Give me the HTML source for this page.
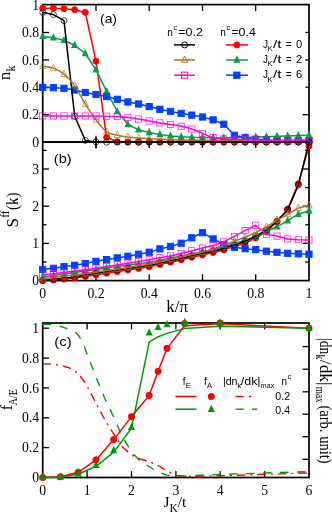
<!DOCTYPE html>
<html><head><meta charset="utf-8"><title>fig</title><style>html,body{margin:0;padding:0;background:#fff}svg{display:block}</style></head><body>
<svg width="332" height="514" viewBox="0 0 332 514">
<rect width="332" height="514" fill="#fff"/>
<defs><clipPath id="ca"><rect x="38.7" y="0.5999999999999996" width="274.3" height="145.45000000000002"/></clipPath></defs>
<g id="axa">
<rect x="42.7" y="4.6" width="266.3" height="137.45000000000002" fill="none" stroke="#000" stroke-width="1.7"/>
<line x1="96.0" y1="4.6" x2="96.0" y2="11.0" stroke="#000" stroke-width="1.3"/>
<line x1="96.0" y1="142.1" x2="96.0" y2="137.2" stroke="#000" stroke-width="1.3"/>
<line x1="149.2" y1="4.6" x2="149.2" y2="11.0" stroke="#000" stroke-width="1.3"/>
<line x1="149.2" y1="142.1" x2="149.2" y2="137.2" stroke="#000" stroke-width="1.3"/>
<line x1="202.5" y1="4.6" x2="202.5" y2="11.0" stroke="#000" stroke-width="1.3"/>
<line x1="202.5" y1="142.1" x2="202.5" y2="137.2" stroke="#000" stroke-width="1.3"/>
<line x1="255.7" y1="4.6" x2="255.7" y2="11.0" stroke="#000" stroke-width="1.3"/>
<line x1="255.7" y1="142.1" x2="255.7" y2="137.2" stroke="#000" stroke-width="1.3"/>
<line x1="42.7" y1="114.7" x2="49.1" y2="114.7" stroke="#000" stroke-width="1.3"/>
<line x1="309.0" y1="114.7" x2="302.6" y2="114.7" stroke="#000" stroke-width="1.3"/>
<line x1="42.7" y1="87.2" x2="49.1" y2="87.2" stroke="#000" stroke-width="1.3"/>
<line x1="309.0" y1="87.2" x2="302.6" y2="87.2" stroke="#000" stroke-width="1.3"/>
<line x1="42.7" y1="59.9" x2="49.1" y2="59.9" stroke="#000" stroke-width="1.3"/>
<line x1="309.0" y1="59.9" x2="302.6" y2="59.9" stroke="#000" stroke-width="1.3"/>
<line x1="42.7" y1="32.5" x2="49.1" y2="32.5" stroke="#000" stroke-width="1.3"/>
<line x1="309.0" y1="32.5" x2="302.6" y2="32.5" stroke="#000" stroke-width="1.3"/>
</g>
<g id="pa">
<polyline points="42.7,8.2 53.4,8.2 64.0,8.7 74.7,9.7 85.3,12.4 96.0,61.2 106.6,137.3 117.3,141.8 127.9,142.1 138.6,142.1 149.2,142.1 159.9,142.1 170.5,142.1 181.2,142.1 191.8,142.1 202.5,142.1 213.1,142.1 223.8,142.1 234.4,142.1 245.1,142.1 255.7,142.1 266.4,142.1 277.0,142.1 287.7,142.1 298.3,142.1 309.0,142.1" fill="none" stroke="#ff0000" stroke-width="1.5" stroke-linejoin="round"/>
<circle cx="42.7" cy="8.2" r="3.0" fill="#ff0000" stroke="#ff0000" stroke-width="1.0"/>
<circle cx="53.4" cy="8.2" r="3.0" fill="#ff0000" stroke="#ff0000" stroke-width="1.0"/>
<circle cx="64.0" cy="8.7" r="3.0" fill="#ff0000" stroke="#ff0000" stroke-width="1.0"/>
<circle cx="74.7" cy="9.7" r="3.0" fill="#ff0000" stroke="#ff0000" stroke-width="1.0"/>
<circle cx="85.3" cy="12.4" r="3.0" fill="#ff0000" stroke="#ff0000" stroke-width="1.0"/>
<circle cx="96.0" cy="61.2" r="3.0" fill="#ff0000" stroke="#ff0000" stroke-width="1.0"/>
<circle cx="106.6" cy="137.3" r="3.0" fill="#ff0000" stroke="#ff0000" stroke-width="1.0"/>
<circle cx="117.3" cy="141.8" r="3.0" fill="#ff0000" stroke="#ff0000" stroke-width="1.0"/>
<circle cx="127.9" cy="142.1" r="3.0" fill="#ff0000" stroke="#ff0000" stroke-width="1.0"/>
<circle cx="138.6" cy="142.1" r="3.0" fill="#ff0000" stroke="#ff0000" stroke-width="1.0"/>
<circle cx="149.2" cy="142.1" r="3.0" fill="#ff0000" stroke="#ff0000" stroke-width="1.0"/>
<circle cx="159.9" cy="142.1" r="3.0" fill="#ff0000" stroke="#ff0000" stroke-width="1.0"/>
<circle cx="170.5" cy="142.1" r="3.0" fill="#ff0000" stroke="#ff0000" stroke-width="1.0"/>
<circle cx="181.2" cy="142.1" r="3.0" fill="#ff0000" stroke="#ff0000" stroke-width="1.0"/>
<circle cx="191.8" cy="142.1" r="3.0" fill="#ff0000" stroke="#ff0000" stroke-width="1.0"/>
<circle cx="202.5" cy="142.1" r="3.0" fill="#ff0000" stroke="#ff0000" stroke-width="1.0"/>
<circle cx="213.1" cy="142.1" r="3.0" fill="#ff0000" stroke="#ff0000" stroke-width="1.0"/>
<circle cx="223.8" cy="142.1" r="3.0" fill="#ff0000" stroke="#ff0000" stroke-width="1.0"/>
<circle cx="234.4" cy="142.1" r="3.0" fill="#ff0000" stroke="#ff0000" stroke-width="1.0"/>
<circle cx="245.1" cy="142.1" r="3.0" fill="#ff0000" stroke="#ff0000" stroke-width="1.0"/>
<circle cx="255.7" cy="142.1" r="3.0" fill="#ff0000" stroke="#ff0000" stroke-width="1.0"/>
<circle cx="266.4" cy="142.1" r="3.0" fill="#ff0000" stroke="#ff0000" stroke-width="1.0"/>
<circle cx="277.0" cy="142.1" r="3.0" fill="#ff0000" stroke="#ff0000" stroke-width="1.0"/>
<circle cx="287.7" cy="142.1" r="3.0" fill="#ff0000" stroke="#ff0000" stroke-width="1.0"/>
<circle cx="298.3" cy="142.1" r="3.0" fill="#ff0000" stroke="#ff0000" stroke-width="1.0"/>
<circle cx="309.0" cy="142.1" r="3.0" fill="#ff0000" stroke="#ff0000" stroke-width="1.0"/>
<polyline points="42.7,36.4 53.4,37.7 64.0,40.3 74.7,45.3 85.3,53.5 96.0,69.9 106.6,91.4 117.3,111.5 127.9,124.5 138.6,129.9 149.2,132.6 159.9,134.5 170.5,135.9 181.2,136.7 191.8,137.3 202.5,137.5 213.1,137.7 223.8,137.7 234.4,137.5 245.1,137.4 255.7,137.1 266.4,136.7 277.0,136.3 287.7,135.9 298.3,135.5 309.0,135.2" fill="none" stroke="#0a9a50" stroke-width="1.5" stroke-linejoin="round"/>
<polygon points="42.7,31.9 39.2,39.1 46.2,39.1" fill="#0a9a50"/>
<polygon points="53.4,33.2 49.8,40.4 56.9,40.4" fill="#0a9a50"/>
<polygon points="64.0,35.8 60.5,43.0 67.6,43.0" fill="#0a9a50"/>
<polygon points="74.7,40.8 71.1,48.0 78.2,48.0" fill="#0a9a50"/>
<polygon points="85.3,49.0 81.8,56.2 88.9,56.2" fill="#0a9a50"/>
<polygon points="96.0,65.4 92.4,72.6 99.5,72.6" fill="#0a9a50"/>
<polygon points="106.6,86.9 103.1,94.1 110.2,94.1" fill="#0a9a50"/>
<polygon points="117.3,107.0 113.7,114.2 120.8,114.2" fill="#0a9a50"/>
<polygon points="127.9,120.0 124.4,127.2 131.5,127.2" fill="#0a9a50"/>
<polygon points="138.6,125.4 135.0,132.6 142.1,132.6" fill="#0a9a50"/>
<polygon points="149.2,128.1 145.7,135.3 152.8,135.3" fill="#0a9a50"/>
<polygon points="159.9,130.0 156.3,137.2 163.4,137.2" fill="#0a9a50"/>
<polygon points="170.5,131.4 167.0,138.6 174.1,138.6" fill="#0a9a50"/>
<polygon points="181.2,132.2 177.6,139.4 184.7,139.4" fill="#0a9a50"/>
<polygon points="191.8,132.8 188.3,140.0 195.4,140.0" fill="#0a9a50"/>
<polygon points="202.5,133.0 198.9,140.2 206.0,140.2" fill="#0a9a50"/>
<polygon points="213.1,133.2 209.6,140.4 216.7,140.4" fill="#0a9a50"/>
<polygon points="223.8,133.2 220.2,140.4 227.3,140.4" fill="#0a9a50"/>
<polygon points="234.4,133.0 230.9,140.2 238.0,140.2" fill="#0a9a50"/>
<polygon points="245.1,132.9 241.5,140.1 248.6,140.1" fill="#0a9a50"/>
<polygon points="255.7,132.6 252.2,139.8 259.3,139.8" fill="#0a9a50"/>
<polygon points="266.4,132.2 262.8,139.4 269.9,139.4" fill="#0a9a50"/>
<polygon points="277.0,131.8 273.5,139.0 280.6,139.0" fill="#0a9a50"/>
<polygon points="287.7,131.4 284.1,138.6 291.2,138.6" fill="#0a9a50"/>
<polygon points="298.3,131.0 294.8,138.2 301.9,138.2" fill="#0a9a50"/>
<polygon points="309.0,130.7 305.4,137.9 312.6,137.9" fill="#0a9a50"/>
<polyline points="42.7,87.4 53.4,87.7 64.0,88.3 74.7,90.0 85.3,92.5 96.0,94.5 106.6,96.6 117.3,99.3 127.9,102.0 138.6,104.0 149.2,106.6 159.9,109.3 170.5,111.4 181.2,113.4 191.8,115.1 202.5,117.0 213.1,119.9 223.8,124.2 234.4,135.3 245.1,137.5 255.7,139.3 266.4,140.1 277.0,140.5 287.7,140.7 298.3,140.8 309.0,140.8" fill="none" stroke="#0040ff" stroke-width="1.5" stroke-linejoin="round"/>
<rect x="39.6" y="84.3" width="6.2" height="6.2" fill="#0040ff" stroke="#0040ff" stroke-width="1.0"/>
<rect x="50.3" y="84.6" width="6.2" height="6.2" fill="#0040ff" stroke="#0040ff" stroke-width="1.0"/>
<rect x="60.9" y="85.2" width="6.2" height="6.2" fill="#0040ff" stroke="#0040ff" stroke-width="1.0"/>
<rect x="71.6" y="86.9" width="6.2" height="6.2" fill="#0040ff" stroke="#0040ff" stroke-width="1.0"/>
<rect x="82.2" y="89.4" width="6.2" height="6.2" fill="#0040ff" stroke="#0040ff" stroke-width="1.0"/>
<rect x="92.9" y="91.4" width="6.2" height="6.2" fill="#0040ff" stroke="#0040ff" stroke-width="1.0"/>
<rect x="103.5" y="93.5" width="6.2" height="6.2" fill="#0040ff" stroke="#0040ff" stroke-width="1.0"/>
<rect x="114.2" y="96.2" width="6.2" height="6.2" fill="#0040ff" stroke="#0040ff" stroke-width="1.0"/>
<rect x="124.8" y="98.9" width="6.2" height="6.2" fill="#0040ff" stroke="#0040ff" stroke-width="1.0"/>
<rect x="135.5" y="100.9" width="6.2" height="6.2" fill="#0040ff" stroke="#0040ff" stroke-width="1.0"/>
<rect x="146.1" y="103.5" width="6.2" height="6.2" fill="#0040ff" stroke="#0040ff" stroke-width="1.0"/>
<rect x="156.8" y="106.2" width="6.2" height="6.2" fill="#0040ff" stroke="#0040ff" stroke-width="1.0"/>
<rect x="167.4" y="108.3" width="6.2" height="6.2" fill="#0040ff" stroke="#0040ff" stroke-width="1.0"/>
<rect x="178.1" y="110.3" width="6.2" height="6.2" fill="#0040ff" stroke="#0040ff" stroke-width="1.0"/>
<rect x="188.7" y="112.0" width="6.2" height="6.2" fill="#0040ff" stroke="#0040ff" stroke-width="1.0"/>
<rect x="199.4" y="113.9" width="6.2" height="6.2" fill="#0040ff" stroke="#0040ff" stroke-width="1.0"/>
<rect x="210.0" y="116.8" width="6.2" height="6.2" fill="#0040ff" stroke="#0040ff" stroke-width="1.0"/>
<rect x="220.7" y="121.1" width="6.2" height="6.2" fill="#0040ff" stroke="#0040ff" stroke-width="1.0"/>
<rect x="231.3" y="132.2" width="6.2" height="6.2" fill="#0040ff" stroke="#0040ff" stroke-width="1.0"/>
<rect x="242.0" y="134.4" width="6.2" height="6.2" fill="#0040ff" stroke="#0040ff" stroke-width="1.0"/>
<rect x="252.6" y="136.2" width="6.2" height="6.2" fill="#0040ff" stroke="#0040ff" stroke-width="1.0"/>
<rect x="263.3" y="137.0" width="6.2" height="6.2" fill="#0040ff" stroke="#0040ff" stroke-width="1.0"/>
<rect x="273.9" y="137.4" width="6.2" height="6.2" fill="#0040ff" stroke="#0040ff" stroke-width="1.0"/>
<rect x="284.6" y="137.6" width="6.2" height="6.2" fill="#0040ff" stroke="#0040ff" stroke-width="1.0"/>
<rect x="295.2" y="137.7" width="6.2" height="6.2" fill="#0040ff" stroke="#0040ff" stroke-width="1.0"/>
<rect x="305.9" y="137.7" width="6.2" height="6.2" fill="#0040ff" stroke="#0040ff" stroke-width="1.0"/>
<polyline points="42.7,12.4 53.4,14.6 64.0,20.7 74.7,116.3 85.3,140.4 96.0,141.9 106.6,142.1 117.3,142.1 127.9,142.1 138.6,142.1 149.2,142.1 159.9,142.1 170.5,142.1 181.2,142.1 191.8,142.1 202.5,142.1 213.1,142.1 223.8,142.1 234.4,142.1 245.1,142.1 255.7,142.1 266.4,142.1 277.0,142.1 287.7,142.1 298.3,142.1 309.0,142.1" fill="none" stroke="#000" stroke-width="1.5" stroke-linejoin="round"/>
<circle cx="42.7" cy="12.4" r="3.0" fill="none" stroke="#000" stroke-width="0.7"/>
<circle cx="53.4" cy="14.6" r="3.0" fill="none" stroke="#000" stroke-width="0.7"/>
<circle cx="64.0" cy="20.7" r="3.0" fill="none" stroke="#000" stroke-width="0.7"/>
<circle cx="74.7" cy="116.3" r="3.0" fill="none" stroke="#000" stroke-width="0.7"/>
<circle cx="85.3" cy="140.4" r="3.0" fill="none" stroke="#000" stroke-width="0.7"/>
<circle cx="96.0" cy="141.9" r="3.0" fill="none" stroke="#000" stroke-width="0.7"/>
<circle cx="106.6" cy="142.1" r="3.0" fill="none" stroke="#000" stroke-width="0.7"/>
<circle cx="117.3" cy="142.1" r="3.0" fill="none" stroke="#000" stroke-width="0.7"/>
<circle cx="127.9" cy="142.1" r="3.0" fill="none" stroke="#000" stroke-width="0.7"/>
<circle cx="138.6" cy="142.1" r="3.0" fill="none" stroke="#000" stroke-width="0.7"/>
<circle cx="149.2" cy="142.1" r="3.0" fill="none" stroke="#000" stroke-width="0.7"/>
<circle cx="159.9" cy="142.1" r="3.0" fill="none" stroke="#000" stroke-width="0.7"/>
<circle cx="170.5" cy="142.1" r="3.0" fill="none" stroke="#000" stroke-width="0.7"/>
<circle cx="181.2" cy="142.1" r="3.0" fill="none" stroke="#000" stroke-width="0.7"/>
<circle cx="191.8" cy="142.1" r="3.0" fill="none" stroke="#000" stroke-width="0.7"/>
<circle cx="202.5" cy="142.1" r="3.0" fill="none" stroke="#000" stroke-width="0.7"/>
<circle cx="213.1" cy="142.1" r="3.0" fill="none" stroke="#000" stroke-width="0.7"/>
<circle cx="223.8" cy="142.1" r="3.0" fill="none" stroke="#000" stroke-width="0.7"/>
<circle cx="234.4" cy="142.1" r="3.0" fill="none" stroke="#000" stroke-width="0.7"/>
<circle cx="245.1" cy="142.1" r="3.0" fill="none" stroke="#000" stroke-width="0.7"/>
<circle cx="255.7" cy="142.1" r="3.0" fill="none" stroke="#000" stroke-width="0.7"/>
<circle cx="266.4" cy="142.1" r="3.0" fill="none" stroke="#000" stroke-width="0.7"/>
<circle cx="277.0" cy="142.1" r="3.0" fill="none" stroke="#000" stroke-width="0.7"/>
<circle cx="287.7" cy="142.1" r="3.0" fill="none" stroke="#000" stroke-width="0.7"/>
<circle cx="298.3" cy="142.1" r="3.0" fill="none" stroke="#000" stroke-width="0.7"/>
<circle cx="309.0" cy="142.1" r="3.0" fill="none" stroke="#000" stroke-width="0.7"/>
<line x1="96.0" x2="96.0" y1="135.65" y2="148.45000000000002" stroke="#000" stroke-width="1.2"/>
<path d="M42.7,66.3 C44.5,66.6 49.8,66.7 53.4,68.1 C56.9,69.4 60.5,71.3 64.0,74.2 C67.6,77.2 71.1,80.7 74.7,85.6 C78.2,90.6 81.8,98.3 85.3,104.0 C88.9,109.7 92.4,115.2 96.0,119.9 C99.5,124.5 103.1,129.2 106.6,131.8 C110.2,134.3 113.7,134.3 117.3,135.2 C120.8,136.1 124.4,136.5 127.9,137.0 C131.5,137.4 135.0,137.6 138.6,137.9 C142.1,138.2 145.7,138.5 149.2,138.8 C152.8,139.0 156.3,139.2 159.9,139.3 C163.4,139.5 167.0,139.6 170.5,139.7 C174.1,139.8 177.6,139.9 181.2,140.0 C184.7,140.1 188.3,140.2 191.8,140.3 C195.4,140.3 198.9,140.4 202.5,140.4 C206.0,140.5 209.6,140.5 213.1,140.5 C216.7,140.6 220.2,140.7 223.8,140.7 C227.3,140.7 230.9,140.7 234.4,140.7 C238.0,140.7 241.5,140.7 245.1,140.7 C248.6,140.7 252.2,140.7 255.7,140.7 C259.3,140.7 262.8,140.7 266.4,140.7 C269.9,140.6 273.5,140.5 277.0,140.4 C280.6,140.3 284.1,140.2 287.7,140.1 C291.2,140.0 294.8,139.9 298.3,139.9 C301.9,139.8 307.2,139.6 309.0,139.6" fill="none" stroke="#a8761c" stroke-width="1.5"/>
<polygon points="42.7,62.3 39.6,68.6 45.8,68.6" fill="none" stroke="#a8761c" stroke-width="0.7" stroke-linejoin="miter"/>
<polygon points="53.4,64.1 50.3,70.4 56.5,70.4" fill="none" stroke="#a8761c" stroke-width="0.7" stroke-linejoin="miter"/>
<polygon points="64.0,70.2 60.9,76.5 67.1,76.5" fill="none" stroke="#a8761c" stroke-width="0.7" stroke-linejoin="miter"/>
<polygon points="74.7,81.6 71.6,87.9 77.8,87.9" fill="none" stroke="#a8761c" stroke-width="0.7" stroke-linejoin="miter"/>
<polygon points="85.3,100.0 82.2,106.3 88.4,106.3" fill="none" stroke="#a8761c" stroke-width="0.7" stroke-linejoin="miter"/>
<polygon points="96.0,115.9 92.9,122.2 99.1,122.2" fill="none" stroke="#a8761c" stroke-width="0.7" stroke-linejoin="miter"/>
<polygon points="106.6,127.8 103.5,134.1 109.7,134.1" fill="none" stroke="#a8761c" stroke-width="0.7" stroke-linejoin="miter"/>
<polygon points="117.3,131.2 114.2,137.5 120.4,137.5" fill="none" stroke="#a8761c" stroke-width="0.7" stroke-linejoin="miter"/>
<polygon points="127.9,133.0 124.8,139.3 131.0,139.3" fill="none" stroke="#a8761c" stroke-width="0.7" stroke-linejoin="miter"/>
<polygon points="138.6,133.9 135.5,140.2 141.7,140.2" fill="none" stroke="#a8761c" stroke-width="0.7" stroke-linejoin="miter"/>
<polygon points="149.2,134.8 146.1,141.1 152.3,141.1" fill="none" stroke="#a8761c" stroke-width="0.7" stroke-linejoin="miter"/>
<polygon points="159.9,135.3 156.8,141.6 163.0,141.6" fill="none" stroke="#a8761c" stroke-width="0.7" stroke-linejoin="miter"/>
<polygon points="170.5,135.7 167.4,142.0 173.6,142.0" fill="none" stroke="#a8761c" stroke-width="0.7" stroke-linejoin="miter"/>
<polygon points="181.2,136.0 178.1,142.3 184.3,142.3" fill="none" stroke="#a8761c" stroke-width="0.7" stroke-linejoin="miter"/>
<polygon points="191.8,136.3 188.7,142.6 194.9,142.6" fill="none" stroke="#a8761c" stroke-width="0.7" stroke-linejoin="miter"/>
<polygon points="202.5,136.4 199.4,142.7 205.6,142.7" fill="none" stroke="#a8761c" stroke-width="0.7" stroke-linejoin="miter"/>
<polygon points="213.1,136.5 210.0,142.8 216.2,142.8" fill="none" stroke="#a8761c" stroke-width="0.7" stroke-linejoin="miter"/>
<polygon points="223.8,136.7 220.7,143.0 226.9,143.0" fill="none" stroke="#a8761c" stroke-width="0.7" stroke-linejoin="miter"/>
<polygon points="234.4,136.7 231.3,143.0 237.5,143.0" fill="none" stroke="#a8761c" stroke-width="0.7" stroke-linejoin="miter"/>
<polygon points="245.1,136.7 242.0,143.0 248.2,143.0" fill="none" stroke="#a8761c" stroke-width="0.7" stroke-linejoin="miter"/>
<polygon points="255.7,136.7 252.6,143.0 258.8,143.0" fill="none" stroke="#a8761c" stroke-width="0.7" stroke-linejoin="miter"/>
<polygon points="266.4,136.7 263.3,143.0 269.5,143.0" fill="none" stroke="#a8761c" stroke-width="0.7" stroke-linejoin="miter"/>
<polygon points="277.0,136.4 273.9,142.7 280.1,142.7" fill="none" stroke="#a8761c" stroke-width="0.7" stroke-linejoin="miter"/>
<polygon points="287.7,136.1 284.6,142.4 290.8,142.4" fill="none" stroke="#a8761c" stroke-width="0.7" stroke-linejoin="miter"/>
<polygon points="298.3,135.9 295.2,142.2 301.4,142.2" fill="none" stroke="#a8761c" stroke-width="0.7" stroke-linejoin="miter"/>
<polygon points="309.0,135.6 305.9,141.9 312.1,141.9" fill="none" stroke="#a8761c" stroke-width="0.7" stroke-linejoin="miter"/>
<path d="M42.7,116.0 C44.5,116.0 49.8,116.0 53.4,116.0 C56.9,116.0 60.5,116.0 64.0,116.0 C67.6,116.0 71.1,116.0 74.7,116.0 C78.2,116.0 81.8,116.0 85.3,116.0 C88.9,116.0 92.4,116.0 96.0,116.0 C99.5,116.0 103.1,116.1 106.6,116.2 C110.2,116.2 113.7,116.4 117.3,116.6 C120.8,116.8 124.4,117.0 127.9,117.4 C131.5,117.8 135.0,118.4 138.6,119.0 C142.1,119.6 145.7,120.3 149.2,121.0 C152.8,121.6 156.3,122.3 159.9,122.9 C163.4,123.5 167.0,124.0 170.5,124.5 C174.1,125.1 177.6,125.4 181.2,126.2 C184.7,126.9 188.3,127.8 191.8,129.0 C195.4,130.2 198.9,132.0 202.5,133.4 C206.0,134.9 209.6,136.8 213.1,137.7 C216.7,138.6 220.2,138.6 223.8,138.9 C227.3,139.2 230.9,139.2 234.4,139.3 C238.0,139.4 241.5,139.6 245.1,139.7 C248.6,139.9 252.2,140.0 255.7,140.1 C259.3,140.2 262.8,140.3 266.4,140.4 C269.9,140.5 273.5,140.5 277.0,140.5 C280.6,140.6 284.1,140.7 287.7,140.7 C291.2,140.7 294.8,140.7 298.3,140.7 C301.9,140.7 307.2,140.7 309.0,140.7" fill="none" stroke="#ff00dc" stroke-width="1.5"/>
<rect x="39.6" y="112.9" width="6.2" height="6.2" fill="none" stroke="#ff00dc" stroke-width="0.7"/>
<rect x="50.3" y="112.9" width="6.2" height="6.2" fill="none" stroke="#ff00dc" stroke-width="0.7"/>
<rect x="60.9" y="112.9" width="6.2" height="6.2" fill="none" stroke="#ff00dc" stroke-width="0.7"/>
<rect x="71.6" y="112.9" width="6.2" height="6.2" fill="none" stroke="#ff00dc" stroke-width="0.7"/>
<rect x="82.2" y="112.9" width="6.2" height="6.2" fill="none" stroke="#ff00dc" stroke-width="0.7"/>
<rect x="92.9" y="112.9" width="6.2" height="6.2" fill="none" stroke="#ff00dc" stroke-width="0.7"/>
<rect x="103.5" y="113.1" width="6.2" height="6.2" fill="none" stroke="#ff00dc" stroke-width="0.7"/>
<rect x="114.2" y="113.5" width="6.2" height="6.2" fill="none" stroke="#ff00dc" stroke-width="0.7"/>
<rect x="124.8" y="114.3" width="6.2" height="6.2" fill="none" stroke="#ff00dc" stroke-width="0.7"/>
<rect x="135.5" y="115.9" width="6.2" height="6.2" fill="none" stroke="#ff00dc" stroke-width="0.7"/>
<rect x="146.1" y="117.9" width="6.2" height="6.2" fill="none" stroke="#ff00dc" stroke-width="0.7"/>
<rect x="156.8" y="119.8" width="6.2" height="6.2" fill="none" stroke="#ff00dc" stroke-width="0.7"/>
<rect x="167.4" y="121.4" width="6.2" height="6.2" fill="none" stroke="#ff00dc" stroke-width="0.7"/>
<rect x="178.1" y="123.1" width="6.2" height="6.2" fill="none" stroke="#ff00dc" stroke-width="0.7"/>
<rect x="188.7" y="125.9" width="6.2" height="6.2" fill="none" stroke="#ff00dc" stroke-width="0.7"/>
<rect x="199.4" y="130.3" width="6.2" height="6.2" fill="none" stroke="#ff00dc" stroke-width="0.7"/>
<rect x="210.0" y="134.6" width="6.2" height="6.2" fill="none" stroke="#ff00dc" stroke-width="0.7"/>
<rect x="220.7" y="135.8" width="6.2" height="6.2" fill="none" stroke="#ff00dc" stroke-width="0.7"/>
<rect x="231.3" y="136.2" width="6.2" height="6.2" fill="none" stroke="#ff00dc" stroke-width="0.7"/>
<rect x="242.0" y="136.6" width="6.2" height="6.2" fill="none" stroke="#ff00dc" stroke-width="0.7"/>
<rect x="252.6" y="137.0" width="6.2" height="6.2" fill="none" stroke="#ff00dc" stroke-width="0.7"/>
<rect x="263.3" y="137.3" width="6.2" height="6.2" fill="none" stroke="#ff00dc" stroke-width="0.7"/>
<rect x="273.9" y="137.4" width="6.2" height="6.2" fill="none" stroke="#ff00dc" stroke-width="0.7"/>
<rect x="284.6" y="137.6" width="6.2" height="6.2" fill="none" stroke="#ff00dc" stroke-width="0.7"/>
<rect x="295.2" y="137.6" width="6.2" height="6.2" fill="none" stroke="#ff00dc" stroke-width="0.7"/>
<rect x="305.9" y="137.6" width="6.2" height="6.2" fill="none" stroke="#ff00dc" stroke-width="0.7"/>
</g>
<rect x="215" y="12" width="90.4" height="90" fill="#fff"/>
<g id="axb">
<rect x="42.7" y="142.05" width="266.3" height="138.55" fill="none" stroke="#000" stroke-width="1.7"/>
<line x1="96.0" y1="142.1" x2="96.0" y2="148.0" stroke="#000" stroke-width="1.3"/>
<line x1="96.0" y1="280.6" x2="96.0" y2="274.2" stroke="#000" stroke-width="1.3"/>
<line x1="149.2" y1="142.1" x2="149.2" y2="148.0" stroke="#000" stroke-width="1.3"/>
<line x1="149.2" y1="280.6" x2="149.2" y2="274.2" stroke="#000" stroke-width="1.3"/>
<line x1="202.5" y1="142.1" x2="202.5" y2="148.0" stroke="#000" stroke-width="1.3"/>
<line x1="202.5" y1="280.6" x2="202.5" y2="274.2" stroke="#000" stroke-width="1.3"/>
<line x1="255.7" y1="142.1" x2="255.7" y2="148.0" stroke="#000" stroke-width="1.3"/>
<line x1="255.7" y1="280.6" x2="255.7" y2="274.2" stroke="#000" stroke-width="1.3"/>
<line x1="42.7" y1="262.0" x2="46.6" y2="262.0" stroke="#000" stroke-width="1.3"/>
<line x1="309.0" y1="262.0" x2="305.1" y2="262.0" stroke="#000" stroke-width="1.3"/>
<line x1="42.7" y1="243.4" x2="49.1" y2="243.4" stroke="#000" stroke-width="1.3"/>
<line x1="309.0" y1="243.4" x2="302.6" y2="243.4" stroke="#000" stroke-width="1.3"/>
<line x1="42.7" y1="224.8" x2="46.6" y2="224.8" stroke="#000" stroke-width="1.3"/>
<line x1="309.0" y1="224.8" x2="305.1" y2="224.8" stroke="#000" stroke-width="1.3"/>
<line x1="42.7" y1="206.2" x2="49.1" y2="206.2" stroke="#000" stroke-width="1.3"/>
<line x1="309.0" y1="206.2" x2="302.6" y2="206.2" stroke="#000" stroke-width="1.3"/>
<line x1="42.7" y1="187.6" x2="46.6" y2="187.6" stroke="#000" stroke-width="1.3"/>
<line x1="309.0" y1="187.6" x2="305.1" y2="187.6" stroke="#000" stroke-width="1.3"/>
<line x1="42.7" y1="169.0" x2="49.1" y2="169.0" stroke="#000" stroke-width="1.3"/>
<line x1="309.0" y1="169.0" x2="302.6" y2="169.0" stroke="#000" stroke-width="1.3"/>
<line x1="42.7" y1="150.4" x2="46.6" y2="150.4" stroke="#000" stroke-width="1.3"/>
<line x1="309.0" y1="150.4" x2="305.1" y2="150.4" stroke="#000" stroke-width="1.3"/>
</g>
<g id="pb">
<polyline points="42.7,280.6 53.4,280.0 64.0,279.1 74.7,277.9 85.3,276.5 96.0,274.8 106.6,273.3 117.3,271.7 127.9,270.1 138.6,268.5 149.2,266.8 159.9,264.5 170.5,262.2 181.2,259.7 191.8,257.3 202.5,254.9 213.1,252.5 223.8,249.9 234.4,246.6 245.1,243.0 255.7,238.0 266.4,231.9 277.0,221.7 287.7,209.0 298.3,183.9 309.0,145.9" fill="none" stroke="#ff0000" stroke-width="1.5" stroke-linejoin="round"/>
<circle cx="42.7" cy="280.6" r="3.0" fill="#ff0000" stroke="#ff0000" stroke-width="1.0"/>
<circle cx="53.4" cy="280.0" r="3.0" fill="#ff0000" stroke="#ff0000" stroke-width="1.0"/>
<circle cx="64.0" cy="279.1" r="3.0" fill="#ff0000" stroke="#ff0000" stroke-width="1.0"/>
<circle cx="74.7" cy="277.9" r="3.0" fill="#ff0000" stroke="#ff0000" stroke-width="1.0"/>
<circle cx="85.3" cy="276.5" r="3.0" fill="#ff0000" stroke="#ff0000" stroke-width="1.0"/>
<circle cx="96.0" cy="274.8" r="3.0" fill="#ff0000" stroke="#ff0000" stroke-width="1.0"/>
<circle cx="106.6" cy="273.3" r="3.0" fill="#ff0000" stroke="#ff0000" stroke-width="1.0"/>
<circle cx="117.3" cy="271.7" r="3.0" fill="#ff0000" stroke="#ff0000" stroke-width="1.0"/>
<circle cx="127.9" cy="270.1" r="3.0" fill="#ff0000" stroke="#ff0000" stroke-width="1.0"/>
<circle cx="138.6" cy="268.5" r="3.0" fill="#ff0000" stroke="#ff0000" stroke-width="1.0"/>
<circle cx="149.2" cy="266.8" r="3.0" fill="#ff0000" stroke="#ff0000" stroke-width="1.0"/>
<circle cx="159.9" cy="264.5" r="3.0" fill="#ff0000" stroke="#ff0000" stroke-width="1.0"/>
<circle cx="170.5" cy="262.2" r="3.0" fill="#ff0000" stroke="#ff0000" stroke-width="1.0"/>
<circle cx="181.2" cy="259.7" r="3.0" fill="#ff0000" stroke="#ff0000" stroke-width="1.0"/>
<circle cx="191.8" cy="257.3" r="3.0" fill="#ff0000" stroke="#ff0000" stroke-width="1.0"/>
<circle cx="202.5" cy="254.9" r="3.0" fill="#ff0000" stroke="#ff0000" stroke-width="1.0"/>
<circle cx="213.1" cy="252.5" r="3.0" fill="#ff0000" stroke="#ff0000" stroke-width="1.0"/>
<circle cx="223.8" cy="249.9" r="3.0" fill="#ff0000" stroke="#ff0000" stroke-width="1.0"/>
<circle cx="234.4" cy="246.6" r="3.0" fill="#ff0000" stroke="#ff0000" stroke-width="1.0"/>
<circle cx="245.1" cy="243.0" r="3.0" fill="#ff0000" stroke="#ff0000" stroke-width="1.0"/>
<circle cx="255.7" cy="238.0" r="3.0" fill="#ff0000" stroke="#ff0000" stroke-width="1.0"/>
<circle cx="266.4" cy="231.9" r="3.0" fill="#ff0000" stroke="#ff0000" stroke-width="1.0"/>
<circle cx="277.0" cy="221.7" r="3.0" fill="#ff0000" stroke="#ff0000" stroke-width="1.0"/>
<circle cx="287.7" cy="209.0" r="3.0" fill="#ff0000" stroke="#ff0000" stroke-width="1.0"/>
<circle cx="298.3" cy="183.9" r="3.0" fill="#ff0000" stroke="#ff0000" stroke-width="1.0"/>
<circle cx="309.0" cy="145.9" r="3.0" fill="#ff0000" stroke="#ff0000" stroke-width="1.0"/>
<polyline points="42.7,276.9 53.4,275.4 64.0,273.9 74.7,272.4 85.3,270.9 96.0,269.4 106.6,268.0 117.3,266.6 127.9,265.2 138.6,263.8 149.2,262.4 159.9,260.3 170.5,258.1 181.2,256.0 191.8,253.9 202.5,251.8 213.1,249.4 223.8,246.7 234.4,243.6 245.1,240.1 255.7,237.1 266.4,231.5 277.0,226.7 287.7,220.7 298.3,214.2 309.0,210.7" fill="none" stroke="#0a9a50" stroke-width="1.5" stroke-linejoin="round"/>
<polygon points="42.7,272.4 39.2,279.6 46.2,279.6" fill="#0a9a50"/>
<polygon points="53.4,270.9 49.8,278.1 56.9,278.1" fill="#0a9a50"/>
<polygon points="64.0,269.4 60.5,276.6 67.6,276.6" fill="#0a9a50"/>
<polygon points="74.7,267.9 71.1,275.1 78.2,275.1" fill="#0a9a50"/>
<polygon points="85.3,266.4 81.8,273.6 88.9,273.6" fill="#0a9a50"/>
<polygon points="96.0,264.9 92.4,272.1 99.5,272.1" fill="#0a9a50"/>
<polygon points="106.6,263.5 103.1,270.7 110.2,270.7" fill="#0a9a50"/>
<polygon points="117.3,262.1 113.7,269.3 120.8,269.3" fill="#0a9a50"/>
<polygon points="127.9,260.7 124.4,267.9 131.5,267.9" fill="#0a9a50"/>
<polygon points="138.6,259.3 135.0,266.5 142.1,266.5" fill="#0a9a50"/>
<polygon points="149.2,257.9 145.7,265.1 152.8,265.1" fill="#0a9a50"/>
<polygon points="159.9,255.8 156.3,263.0 163.4,263.0" fill="#0a9a50"/>
<polygon points="170.5,253.6 167.0,260.8 174.1,260.8" fill="#0a9a50"/>
<polygon points="181.2,251.5 177.6,258.7 184.7,258.7" fill="#0a9a50"/>
<polygon points="191.8,249.4 188.3,256.6 195.4,256.6" fill="#0a9a50"/>
<polygon points="202.5,247.3 198.9,254.5 206.0,254.5" fill="#0a9a50"/>
<polygon points="213.1,244.9 209.6,252.1 216.7,252.1" fill="#0a9a50"/>
<polygon points="223.8,242.2 220.2,249.4 227.3,249.4" fill="#0a9a50"/>
<polygon points="234.4,239.1 230.9,246.3 238.0,246.3" fill="#0a9a50"/>
<polygon points="245.1,235.6 241.5,242.8 248.6,242.8" fill="#0a9a50"/>
<polygon points="255.7,232.6 252.2,239.8 259.3,239.8" fill="#0a9a50"/>
<polygon points="266.4,227.0 262.8,234.2 269.9,234.2" fill="#0a9a50"/>
<polygon points="277.0,222.2 273.5,229.4 280.6,229.4" fill="#0a9a50"/>
<polygon points="287.7,216.2 284.1,223.4 291.2,223.4" fill="#0a9a50"/>
<polygon points="298.3,209.7 294.8,216.9 301.9,216.9" fill="#0a9a50"/>
<polygon points="309.0,206.2 305.4,213.4 312.6,213.4" fill="#0a9a50"/>
<polyline points="42.7,269.4 53.4,268.3 64.0,266.7 74.7,265.3 85.3,263.6 96.0,261.3 106.6,259.6 117.3,257.9 127.9,256.2 138.6,254.2 149.2,252.2 159.9,248.9 170.5,246.4 181.2,243.2 191.8,237.8 202.5,232.7 213.1,238.9 223.8,244.5 234.4,247.3 245.1,248.7 255.7,249.7 266.4,251.2 277.0,252.3 287.7,253.3 298.3,253.8 309.0,254.2" fill="none" stroke="#0040ff" stroke-width="1.5" stroke-linejoin="round"/>
<rect x="39.6" y="266.3" width="6.2" height="6.2" fill="#0040ff" stroke="#0040ff" stroke-width="1.0"/>
<rect x="50.3" y="265.2" width="6.2" height="6.2" fill="#0040ff" stroke="#0040ff" stroke-width="1.0"/>
<rect x="60.9" y="263.6" width="6.2" height="6.2" fill="#0040ff" stroke="#0040ff" stroke-width="1.0"/>
<rect x="71.6" y="262.2" width="6.2" height="6.2" fill="#0040ff" stroke="#0040ff" stroke-width="1.0"/>
<rect x="82.2" y="260.5" width="6.2" height="6.2" fill="#0040ff" stroke="#0040ff" stroke-width="1.0"/>
<rect x="92.9" y="258.2" width="6.2" height="6.2" fill="#0040ff" stroke="#0040ff" stroke-width="1.0"/>
<rect x="103.5" y="256.5" width="6.2" height="6.2" fill="#0040ff" stroke="#0040ff" stroke-width="1.0"/>
<rect x="114.2" y="254.8" width="6.2" height="6.2" fill="#0040ff" stroke="#0040ff" stroke-width="1.0"/>
<rect x="124.8" y="253.1" width="6.2" height="6.2" fill="#0040ff" stroke="#0040ff" stroke-width="1.0"/>
<rect x="135.5" y="251.1" width="6.2" height="6.2" fill="#0040ff" stroke="#0040ff" stroke-width="1.0"/>
<rect x="146.1" y="249.1" width="6.2" height="6.2" fill="#0040ff" stroke="#0040ff" stroke-width="1.0"/>
<rect x="156.8" y="245.8" width="6.2" height="6.2" fill="#0040ff" stroke="#0040ff" stroke-width="1.0"/>
<rect x="167.4" y="243.3" width="6.2" height="6.2" fill="#0040ff" stroke="#0040ff" stroke-width="1.0"/>
<rect x="178.1" y="240.1" width="6.2" height="6.2" fill="#0040ff" stroke="#0040ff" stroke-width="1.0"/>
<rect x="188.7" y="234.7" width="6.2" height="6.2" fill="#0040ff" stroke="#0040ff" stroke-width="1.0"/>
<rect x="199.4" y="229.6" width="6.2" height="6.2" fill="#0040ff" stroke="#0040ff" stroke-width="1.0"/>
<rect x="210.0" y="235.8" width="6.2" height="6.2" fill="#0040ff" stroke="#0040ff" stroke-width="1.0"/>
<rect x="220.7" y="241.4" width="6.2" height="6.2" fill="#0040ff" stroke="#0040ff" stroke-width="1.0"/>
<rect x="231.3" y="244.2" width="6.2" height="6.2" fill="#0040ff" stroke="#0040ff" stroke-width="1.0"/>
<rect x="242.0" y="245.6" width="6.2" height="6.2" fill="#0040ff" stroke="#0040ff" stroke-width="1.0"/>
<rect x="252.6" y="246.6" width="6.2" height="6.2" fill="#0040ff" stroke="#0040ff" stroke-width="1.0"/>
<rect x="263.3" y="248.1" width="6.2" height="6.2" fill="#0040ff" stroke="#0040ff" stroke-width="1.0"/>
<rect x="273.9" y="249.2" width="6.2" height="6.2" fill="#0040ff" stroke="#0040ff" stroke-width="1.0"/>
<rect x="284.6" y="250.2" width="6.2" height="6.2" fill="#0040ff" stroke="#0040ff" stroke-width="1.0"/>
<rect x="295.2" y="250.7" width="6.2" height="6.2" fill="#0040ff" stroke="#0040ff" stroke-width="1.0"/>
<rect x="305.9" y="251.1" width="6.2" height="6.2" fill="#0040ff" stroke="#0040ff" stroke-width="1.0"/>
<polyline points="42.7,280.6 53.4,279.4 64.0,278.1 74.7,276.9 85.3,275.1 96.0,273.3 106.6,271.7 117.3,270.1 127.9,268.5 138.6,266.9 149.2,265.3 159.9,263.1 170.5,260.9 181.2,258.4 191.8,255.8 202.5,253.3 213.1,251.2 223.8,248.4 234.4,245.1 245.1,241.2 255.7,236.1 266.4,230.1 277.0,221.1 287.7,209.9 298.3,185.1 309.0,142.2" fill="none" stroke="#000" stroke-width="1.5" stroke-linejoin="round"/>
<circle cx="42.7" cy="280.6" r="3.0" fill="none" stroke="#000" stroke-width="0.7"/>
<circle cx="53.4" cy="279.4" r="3.0" fill="none" stroke="#000" stroke-width="0.7"/>
<circle cx="64.0" cy="278.1" r="3.0" fill="none" stroke="#000" stroke-width="0.7"/>
<circle cx="74.7" cy="276.9" r="3.0" fill="none" stroke="#000" stroke-width="0.7"/>
<circle cx="85.3" cy="275.1" r="3.0" fill="none" stroke="#000" stroke-width="0.7"/>
<circle cx="96.0" cy="273.3" r="3.0" fill="none" stroke="#000" stroke-width="0.7"/>
<circle cx="106.6" cy="271.7" r="3.0" fill="none" stroke="#000" stroke-width="0.7"/>
<circle cx="117.3" cy="270.1" r="3.0" fill="none" stroke="#000" stroke-width="0.7"/>
<circle cx="127.9" cy="268.5" r="3.0" fill="none" stroke="#000" stroke-width="0.7"/>
<circle cx="138.6" cy="266.9" r="3.0" fill="none" stroke="#000" stroke-width="0.7"/>
<circle cx="149.2" cy="265.3" r="3.0" fill="none" stroke="#000" stroke-width="0.7"/>
<circle cx="159.9" cy="263.1" r="3.0" fill="none" stroke="#000" stroke-width="0.7"/>
<circle cx="170.5" cy="260.9" r="3.0" fill="none" stroke="#000" stroke-width="0.7"/>
<circle cx="181.2" cy="258.4" r="3.0" fill="none" stroke="#000" stroke-width="0.7"/>
<circle cx="191.8" cy="255.8" r="3.0" fill="none" stroke="#000" stroke-width="0.7"/>
<circle cx="202.5" cy="253.3" r="3.0" fill="none" stroke="#000" stroke-width="0.7"/>
<circle cx="213.1" cy="251.2" r="3.0" fill="none" stroke="#000" stroke-width="0.7"/>
<circle cx="223.8" cy="248.4" r="3.0" fill="none" stroke="#000" stroke-width="0.7"/>
<circle cx="234.4" cy="245.1" r="3.0" fill="none" stroke="#000" stroke-width="0.7"/>
<circle cx="245.1" cy="241.2" r="3.0" fill="none" stroke="#000" stroke-width="0.7"/>
<circle cx="255.7" cy="236.1" r="3.0" fill="none" stroke="#000" stroke-width="0.7"/>
<circle cx="266.4" cy="230.1" r="3.0" fill="none" stroke="#000" stroke-width="0.7"/>
<circle cx="277.0" cy="221.1" r="3.0" fill="none" stroke="#000" stroke-width="0.7"/>
<circle cx="287.7" cy="209.9" r="3.0" fill="none" stroke="#000" stroke-width="0.7"/>
<circle cx="298.3" cy="185.1" r="3.0" fill="none" stroke="#000" stroke-width="0.7"/>
<circle cx="309.0" cy="142.2" r="3.0" fill="none" stroke="#000" stroke-width="0.7"/>
<polyline points="42.7,278.7 53.4,277.4 64.0,276.1 74.7,274.7 85.3,273.4 96.0,272.0 106.6,270.5 117.3,268.9 127.9,267.4 138.6,265.8 149.2,264.2 159.9,261.7 170.5,259.2 181.2,256.8 191.8,254.5 202.5,252.1 213.1,249.0 223.8,245.3 234.4,241.2 245.1,237.1 255.7,232.6 266.4,227.0 277.0,220.3 287.7,214.4 298.3,208.1 309.0,205.5" fill="none" stroke="#a8761c" stroke-width="1.5" stroke-linejoin="round"/>
<polygon points="42.7,274.7 39.6,281.0 45.8,281.0" fill="none" stroke="#a8761c" stroke-width="0.7" stroke-linejoin="miter"/>
<polygon points="53.4,273.4 50.3,279.7 56.5,279.7" fill="none" stroke="#a8761c" stroke-width="0.7" stroke-linejoin="miter"/>
<polygon points="64.0,272.1 60.9,278.4 67.1,278.4" fill="none" stroke="#a8761c" stroke-width="0.7" stroke-linejoin="miter"/>
<polygon points="74.7,270.7 71.6,277.0 77.8,277.0" fill="none" stroke="#a8761c" stroke-width="0.7" stroke-linejoin="miter"/>
<polygon points="85.3,269.4 82.2,275.7 88.4,275.7" fill="none" stroke="#a8761c" stroke-width="0.7" stroke-linejoin="miter"/>
<polygon points="96.0,268.0 92.9,274.3 99.1,274.3" fill="none" stroke="#a8761c" stroke-width="0.7" stroke-linejoin="miter"/>
<polygon points="106.6,266.5 103.5,272.8 109.7,272.8" fill="none" stroke="#a8761c" stroke-width="0.7" stroke-linejoin="miter"/>
<polygon points="117.3,264.9 114.2,271.2 120.4,271.2" fill="none" stroke="#a8761c" stroke-width="0.7" stroke-linejoin="miter"/>
<polygon points="127.9,263.4 124.8,269.7 131.0,269.7" fill="none" stroke="#a8761c" stroke-width="0.7" stroke-linejoin="miter"/>
<polygon points="138.6,261.8 135.5,268.1 141.7,268.1" fill="none" stroke="#a8761c" stroke-width="0.7" stroke-linejoin="miter"/>
<polygon points="149.2,260.2 146.1,266.5 152.3,266.5" fill="none" stroke="#a8761c" stroke-width="0.7" stroke-linejoin="miter"/>
<polygon points="159.9,257.7 156.8,264.0 163.0,264.0" fill="none" stroke="#a8761c" stroke-width="0.7" stroke-linejoin="miter"/>
<polygon points="170.5,255.2 167.4,261.5 173.6,261.5" fill="none" stroke="#a8761c" stroke-width="0.7" stroke-linejoin="miter"/>
<polygon points="181.2,252.8 178.1,259.1 184.3,259.1" fill="none" stroke="#a8761c" stroke-width="0.7" stroke-linejoin="miter"/>
<polygon points="191.8,250.5 188.7,256.8 194.9,256.8" fill="none" stroke="#a8761c" stroke-width="0.7" stroke-linejoin="miter"/>
<polygon points="202.5,248.1 199.4,254.4 205.6,254.4" fill="none" stroke="#a8761c" stroke-width="0.7" stroke-linejoin="miter"/>
<polygon points="213.1,245.0 210.0,251.3 216.2,251.3" fill="none" stroke="#a8761c" stroke-width="0.7" stroke-linejoin="miter"/>
<polygon points="223.8,241.3 220.7,247.6 226.9,247.6" fill="none" stroke="#a8761c" stroke-width="0.7" stroke-linejoin="miter"/>
<polygon points="234.4,237.2 231.3,243.5 237.5,243.5" fill="none" stroke="#a8761c" stroke-width="0.7" stroke-linejoin="miter"/>
<polygon points="245.1,233.1 242.0,239.4 248.2,239.4" fill="none" stroke="#a8761c" stroke-width="0.7" stroke-linejoin="miter"/>
<polygon points="255.7,228.6 252.6,234.9 258.8,234.9" fill="none" stroke="#a8761c" stroke-width="0.7" stroke-linejoin="miter"/>
<polygon points="266.4,223.0 263.3,229.3 269.5,229.3" fill="none" stroke="#a8761c" stroke-width="0.7" stroke-linejoin="miter"/>
<polygon points="277.0,216.3 273.9,222.6 280.1,222.6" fill="none" stroke="#a8761c" stroke-width="0.7" stroke-linejoin="miter"/>
<polygon points="287.7,210.4 284.6,216.7 290.8,216.7" fill="none" stroke="#a8761c" stroke-width="0.7" stroke-linejoin="miter"/>
<polygon points="298.3,204.1 295.2,210.4 301.4,210.4" fill="none" stroke="#a8761c" stroke-width="0.7" stroke-linejoin="miter"/>
<polygon points="309.0,201.5 305.9,207.8 312.1,207.8" fill="none" stroke="#a8761c" stroke-width="0.7" stroke-linejoin="miter"/>
<polyline points="42.7,275.0 53.4,273.7 64.0,272.4 74.7,271.0 85.3,269.7 96.0,268.3 106.6,266.6 117.3,264.9 127.9,263.2 138.6,261.5 149.2,259.8 159.9,257.8 170.5,255.9 181.2,253.4 191.8,250.8 202.5,248.0 213.1,245.5 223.8,241.9 234.4,236.4 245.1,230.7 255.7,225.2 266.4,234.3 277.0,236.1 287.7,238.9 298.3,239.8 309.0,240.1" fill="none" stroke="#ff00dc" stroke-width="1.5" stroke-linejoin="round"/>
<rect x="39.6" y="271.9" width="6.2" height="6.2" fill="none" stroke="#ff00dc" stroke-width="0.7"/>
<rect x="50.3" y="270.6" width="6.2" height="6.2" fill="none" stroke="#ff00dc" stroke-width="0.7"/>
<rect x="60.9" y="269.3" width="6.2" height="6.2" fill="none" stroke="#ff00dc" stroke-width="0.7"/>
<rect x="71.6" y="267.9" width="6.2" height="6.2" fill="none" stroke="#ff00dc" stroke-width="0.7"/>
<rect x="82.2" y="266.6" width="6.2" height="6.2" fill="none" stroke="#ff00dc" stroke-width="0.7"/>
<rect x="92.9" y="265.2" width="6.2" height="6.2" fill="none" stroke="#ff00dc" stroke-width="0.7"/>
<rect x="103.5" y="263.5" width="6.2" height="6.2" fill="none" stroke="#ff00dc" stroke-width="0.7"/>
<rect x="114.2" y="261.8" width="6.2" height="6.2" fill="none" stroke="#ff00dc" stroke-width="0.7"/>
<rect x="124.8" y="260.1" width="6.2" height="6.2" fill="none" stroke="#ff00dc" stroke-width="0.7"/>
<rect x="135.5" y="258.4" width="6.2" height="6.2" fill="none" stroke="#ff00dc" stroke-width="0.7"/>
<rect x="146.1" y="256.7" width="6.2" height="6.2" fill="none" stroke="#ff00dc" stroke-width="0.7"/>
<rect x="156.8" y="254.7" width="6.2" height="6.2" fill="none" stroke="#ff00dc" stroke-width="0.7"/>
<rect x="167.4" y="252.8" width="6.2" height="6.2" fill="none" stroke="#ff00dc" stroke-width="0.7"/>
<rect x="178.1" y="250.3" width="6.2" height="6.2" fill="none" stroke="#ff00dc" stroke-width="0.7"/>
<rect x="188.7" y="247.7" width="6.2" height="6.2" fill="none" stroke="#ff00dc" stroke-width="0.7"/>
<rect x="199.4" y="244.9" width="6.2" height="6.2" fill="none" stroke="#ff00dc" stroke-width="0.7"/>
<rect x="210.0" y="242.4" width="6.2" height="6.2" fill="none" stroke="#ff00dc" stroke-width="0.7"/>
<rect x="220.7" y="238.8" width="6.2" height="6.2" fill="none" stroke="#ff00dc" stroke-width="0.7"/>
<rect x="231.3" y="233.3" width="6.2" height="6.2" fill="none" stroke="#ff00dc" stroke-width="0.7"/>
<rect x="242.0" y="227.6" width="6.2" height="6.2" fill="none" stroke="#ff00dc" stroke-width="0.7"/>
<rect x="252.6" y="222.1" width="6.2" height="6.2" fill="none" stroke="#ff00dc" stroke-width="0.7"/>
<rect x="263.3" y="231.2" width="6.2" height="6.2" fill="none" stroke="#ff00dc" stroke-width="0.7"/>
<rect x="273.9" y="233.0" width="6.2" height="6.2" fill="none" stroke="#ff00dc" stroke-width="0.7"/>
<rect x="284.6" y="235.8" width="6.2" height="6.2" fill="none" stroke="#ff00dc" stroke-width="0.7"/>
<rect x="295.2" y="236.7" width="6.2" height="6.2" fill="none" stroke="#ff00dc" stroke-width="0.7"/>
<rect x="305.9" y="237.0" width="6.2" height="6.2" fill="none" stroke="#ff00dc" stroke-width="0.7"/>
</g>
<g id="axc">
<rect x="42.7" y="323.0" width="266.3" height="154.5" fill="none" stroke="#000" stroke-width="1.7"/>
<line x1="87.1" y1="323.0" x2="87.1" y2="329.4" stroke="#000" stroke-width="1.3"/>
<line x1="87.1" y1="477.5" x2="87.1" y2="471.1" stroke="#000" stroke-width="1.3"/>
<line x1="131.5" y1="323.0" x2="131.5" y2="329.4" stroke="#000" stroke-width="1.3"/>
<line x1="131.5" y1="477.5" x2="131.5" y2="471.1" stroke="#000" stroke-width="1.3"/>
<line x1="175.9" y1="323.0" x2="175.9" y2="329.4" stroke="#000" stroke-width="1.3"/>
<line x1="175.9" y1="477.5" x2="175.9" y2="471.1" stroke="#000" stroke-width="1.3"/>
<line x1="220.2" y1="323.0" x2="220.2" y2="329.4" stroke="#000" stroke-width="1.3"/>
<line x1="220.2" y1="477.5" x2="220.2" y2="471.1" stroke="#000" stroke-width="1.3"/>
<line x1="264.6" y1="323.0" x2="264.6" y2="329.4" stroke="#000" stroke-width="1.3"/>
<line x1="264.6" y1="477.5" x2="264.6" y2="471.1" stroke="#000" stroke-width="1.3"/>
<line x1="42.7" y1="447.6" x2="49.1" y2="447.6" stroke="#000" stroke-width="1.3"/>
<line x1="42.7" y1="417.8" x2="49.1" y2="417.8" stroke="#000" stroke-width="1.3"/>
<line x1="42.7" y1="387.9" x2="49.1" y2="387.9" stroke="#000" stroke-width="1.3"/>
<line x1="42.7" y1="358.1" x2="49.1" y2="358.1" stroke="#000" stroke-width="1.3"/>
<line x1="42.7" y1="328.2" x2="49.1" y2="328.2" stroke="#000" stroke-width="1.3"/>
<line x1="309.0" y1="459.3" x2="302.6" y2="459.3" stroke="#000" stroke-width="1.3"/>
<line x1="309.0" y1="436.7" x2="302.6" y2="436.7" stroke="#000" stroke-width="1.3"/>
<line x1="309.0" y1="414.2" x2="302.6" y2="414.2" stroke="#000" stroke-width="1.3"/>
<line x1="309.0" y1="391.8" x2="302.6" y2="391.8" stroke="#000" stroke-width="1.3"/>
<line x1="309.0" y1="369.2" x2="302.6" y2="369.2" stroke="#000" stroke-width="1.3"/>
<line x1="309.0" y1="346.6" x2="302.6" y2="346.6" stroke="#000" stroke-width="1.3"/>
</g>
<g id="pc">
<polyline points="42.6,324.2 51.0,324.6 60.3,326.3 70.0,329.6 76.0,332.8 79.5,336.8 84.0,346.0 95.9,377.0 104.0,396.5 113.7,417.0 122.0,436.0 131.5,452.0 140.0,461.0 149.0,466.5 158.0,472.0 167.0,475.2 175.0,476.0 184.5,476.0 220.0,474.5 264.8,473.0 309.4,471.7" fill="none" stroke="#009a00" stroke-width="1.4" stroke-linejoin="round" stroke-dasharray="8.5,8.5"/>
<polyline points="42.6,363.8 52.0,364.2 60.3,365.2 70.0,368.2 78.1,373.0 86.0,384.0 95.9,403.0 105.0,420.0 113.7,434.0 122.0,446.5 131.5,455.0 140.0,459.0 149.0,461.4 158.0,465.5 167.0,471.0 175.0,475.2 184.5,476.4 220.0,475.8 264.8,474.3 309.4,472.9" fill="none" stroke="#ff0000" stroke-width="1.4" stroke-linejoin="round" stroke-dasharray="8.5,5,2,5"/>
<polyline points="42.7,477.5 60.5,476.8 78.2,472.3 96.0,459.9 113.7,439.6 131.5,416.6 149.2,395.4 158.1,371.3 167.0,348.4 184.7,325.8 220.2,323.7 309.0,328.2" fill="none" stroke="#ff0000" stroke-width="1.5" stroke-linejoin="round"/>
<polyline points="42.7,477.5 60.5,477.1 78.2,474.2 96.0,466.3 113.7,452.1 131.5,428.2 149.2,342.1 158.1,336.7 167.0,333.4 184.7,328.6 220.2,326.3 309.0,328.2" fill="none" stroke="#009a00" stroke-width="1.5" stroke-linejoin="round"/>
<circle cx="42.7" cy="477.5" r="3.1" fill="#ff0000" stroke="#ff0000" stroke-width="1.0"/>
<circle cx="60.5" cy="476.8" r="3.1" fill="#ff0000" stroke="#ff0000" stroke-width="1.0"/>
<circle cx="78.2" cy="472.3" r="3.1" fill="#ff0000" stroke="#ff0000" stroke-width="1.0"/>
<circle cx="96.0" cy="459.9" r="3.1" fill="#ff0000" stroke="#ff0000" stroke-width="1.0"/>
<circle cx="113.7" cy="439.6" r="3.1" fill="#ff0000" stroke="#ff0000" stroke-width="1.0"/>
<circle cx="131.5" cy="416.6" r="3.1" fill="#ff0000" stroke="#ff0000" stroke-width="1.0"/>
<circle cx="149.2" cy="395.4" r="3.1" fill="#ff0000" stroke="#ff0000" stroke-width="1.0"/>
<circle cx="158.1" cy="371.3" r="3.1" fill="#ff0000" stroke="#ff0000" stroke-width="1.0"/>
<circle cx="167.0" cy="348.4" r="3.1" fill="#ff0000" stroke="#ff0000" stroke-width="1.0"/>
<circle cx="184.7" cy="323.7" r="3.1" fill="#ff0000" stroke="#ff0000" stroke-width="1.0"/>
<circle cx="220.2" cy="323.0" r="3.1" fill="#ff0000" stroke="#ff0000" stroke-width="1.0"/>
<circle cx="309.0" cy="328.2" r="3.1" fill="#ff0000" stroke="#ff0000" stroke-width="1.0"/>
<polygon points="42.7,473.0 39.2,480.2 46.2,480.2" fill="#009a00"/>
<polygon points="60.5,472.6 56.9,479.8 64.0,479.8" fill="#009a00"/>
<polygon points="78.2,469.3 74.7,476.5 81.8,476.5" fill="#009a00"/>
<polygon points="96.0,460.8 92.4,468.0 99.5,468.0" fill="#009a00"/>
<polygon points="113.7,446.1 110.2,453.3 117.3,453.3" fill="#009a00"/>
<polygon points="131.5,422.8 127.9,430.0 135.0,430.0" fill="#009a00"/>
<polygon points="149.2,328.2 145.7,335.4 152.8,335.4" fill="#009a00"/>
<polygon points="158.1,322.7 154.5,329.9 161.6,329.9" fill="#009a00"/>
<polygon points="167.0,320.0 163.4,327.2 170.5,327.2" fill="#009a00"/>
<polygon points="184.7,317.7 181.2,324.9 188.3,324.9" fill="#009a00"/>
<polygon points="220.2,318.5 216.7,325.7 223.8,325.7" fill="#009a00"/>
<polygon points="309.0,323.7 305.4,330.9 312.6,330.9" fill="#009a00"/>
</g>
<g id="labels">
<text x="39.1" y="146.7" font-size="13.7" font-family="Liberation Serif, serif" text-anchor="end" fill="#000">0</text>
<text x="39.1" y="119.2" font-size="13.7" font-family="Liberation Serif, serif" text-anchor="end" fill="#000">0.2</text>
<text x="39.1" y="91.8" font-size="13.7" font-family="Liberation Serif, serif" text-anchor="end" fill="#000">0.4</text>
<text x="39.1" y="64.5" font-size="13.7" font-family="Liberation Serif, serif" text-anchor="end" fill="#000">0.6</text>
<text x="39.1" y="37.1" font-size="13.7" font-family="Liberation Serif, serif" text-anchor="end" fill="#000">0.8</text>
<text x="39.1" y="9.7" font-size="13.7" font-family="Liberation Serif, serif" text-anchor="end" fill="#000">1</text>
<text x="39.1" y="285.2" font-size="13.7" font-family="Liberation Serif, serif" text-anchor="end" fill="#000">0</text>
<text x="39.1" y="248.0" font-size="13.7" font-family="Liberation Serif, serif" text-anchor="end" fill="#000">1</text>
<text x="39.1" y="210.8" font-size="13.7" font-family="Liberation Serif, serif" text-anchor="end" fill="#000">2</text>
<text x="39.1" y="173.6" font-size="13.7" font-family="Liberation Serif, serif" text-anchor="end" fill="#000">3</text>
<text x="39.1" y="482.1" font-size="13.7" font-family="Liberation Serif, serif" text-anchor="end" fill="#000">0</text>
<text x="39.1" y="452.2" font-size="13.7" font-family="Liberation Serif, serif" text-anchor="end" fill="#000">0.2</text>
<text x="39.1" y="422.4" font-size="13.7" font-family="Liberation Serif, serif" text-anchor="end" fill="#000">0.4</text>
<text x="39.1" y="392.5" font-size="13.7" font-family="Liberation Serif, serif" text-anchor="end" fill="#000">0.6</text>
<text x="39.1" y="362.7" font-size="13.7" font-family="Liberation Serif, serif" text-anchor="end" fill="#000">0.8</text>
<text x="39.1" y="332.8" font-size="13.7" font-family="Liberation Serif, serif" text-anchor="end" fill="#000">1</text>
<text x="42.7" y="297.6" font-size="13.7" font-family="Liberation Serif, serif" text-anchor="middle" fill="#000">0</text>
<text x="96.0" y="297.6" font-size="13.7" font-family="Liberation Serif, serif" text-anchor="middle" fill="#000">0.2</text>
<text x="149.2" y="297.6" font-size="13.7" font-family="Liberation Serif, serif" text-anchor="middle" fill="#000">0.4</text>
<text x="202.5" y="297.6" font-size="13.7" font-family="Liberation Serif, serif" text-anchor="middle" fill="#000">0.6</text>
<text x="255.7" y="297.6" font-size="13.7" font-family="Liberation Serif, serif" text-anchor="middle" fill="#000">0.8</text>
<text x="309.0" y="297.6" font-size="13.7" font-family="Liberation Serif, serif" text-anchor="middle" fill="#000">1</text>
<text x="42.7" y="494.5" font-size="13.7" font-family="Liberation Serif, serif" text-anchor="middle" fill="#000">0</text>
<text x="87.1" y="494.5" font-size="13.7" font-family="Liberation Serif, serif" text-anchor="middle" fill="#000">1</text>
<text x="131.5" y="494.5" font-size="13.7" font-family="Liberation Serif, serif" text-anchor="middle" fill="#000">2</text>
<text x="175.9" y="494.5" font-size="13.7" font-family="Liberation Serif, serif" text-anchor="middle" fill="#000">3</text>
<text x="220.2" y="494.5" font-size="13.7" font-family="Liberation Serif, serif" text-anchor="middle" fill="#000">4</text>
<text x="264.6" y="494.5" font-size="13.7" font-family="Liberation Serif, serif" text-anchor="middle" fill="#000">5</text>
<text x="309.0" y="494.5" font-size="13.7" font-family="Liberation Serif, serif" text-anchor="middle" fill="#000">6</text>
<text x="177.1" y="311.5" font-size="17" font-family="Liberation Serif, serif" text-anchor="middle" fill="#000">k/π</text>
<text x="163.6" y="507.3" font-size="15.5" font-family="Liberation Serif, serif">J</text>
<text x="169.6" y="512.0" font-size="11.5" font-family="Liberation Serif, serif">K</text>
<text x="177.8" y="507.3" font-size="15.5" font-family="Liberation Serif, serif">/t</text>
<g transform="translate(9.8,80) rotate(-90)"><text x="0.0" y="0.0" font-size="16.5" font-family="Liberation Serif, serif">n</text><text x="8.6" y="5.1" font-size="12" font-family="Liberation Serif, serif">k</text></g>
<g transform="translate(18.4,227.4) rotate(-90)"><text x="0.0" y="0.0" font-size="17" font-family="Liberation Serif, serif">S</text><text x="9.6" y="-9.6" font-size="11.5" font-family="Liberation Serif, serif">ff</text><text x="17.4" y="0.0" font-size="16" font-family="Liberation Serif, serif" textLength="17.5" lengthAdjust="spacingAndGlyphs">(k)</text></g>
<g transform="translate(12.3,410.3) rotate(-90)"><text x="0.0" y="0.0" font-size="16" font-family="Liberation Serif, serif">f</text><text x="5.0" y="4.4" font-size="11.5" font-family="Liberation Serif, serif" textLength="16.0" lengthAdjust="spacingAndGlyphs">A/E</text></g>
<g transform="translate(320.4,0) rotate(90)"><text x="338.0" y="0.0" font-size="16.5" font-family="Liberation Serif, serif" textLength="16.3" lengthAdjust="spacingAndGlyphs">|dn</text><text x="354.4" y="4.8" font-size="11.5" font-family="Liberation Serif, serif" textLength="5.0" lengthAdjust="spacingAndGlyphs">k</text><text x="359.8" y="0.0" font-size="16.5" font-family="Liberation Serif, serif" textLength="25.8" lengthAdjust="spacingAndGlyphs">/dk|</text><text x="386.8" y="4.8" font-size="11.5" font-family="Liberation Serif, serif" textLength="15.7" lengthAdjust="spacingAndGlyphs">max</text><text x="405.4" y="0.0" font-size="16" font-family="Liberation Serif, serif" textLength="58.3" lengthAdjust="spacingAndGlyphs">(arb. unit)</text></g>
<text x="100.0" y="22.9" font-size="12.8" font-family="Liberation Sans, sans-serif" textLength="17.0" lengthAdjust="spacingAndGlyphs">(a)</text>
<text x="53.8" y="162.5" font-size="12.8" font-family="Liberation Sans, sans-serif" textLength="17.8" lengthAdjust="spacingAndGlyphs">(b)</text>
<text x="54.3" y="345.7" font-size="12.8" font-family="Liberation Sans, sans-serif" textLength="17.4" lengthAdjust="spacingAndGlyphs">(c)</text>
<text x="167.3" y="35.5" font-size="10" font-family="Liberation Sans, sans-serif">n</text><text x="173.6" y="30.0" font-size="7.5" font-family="Liberation Sans, sans-serif">c</text><text x="178.3" y="35.5" font-size="10" font-family="Liberation Sans, sans-serif" textLength="24.6" lengthAdjust="spacingAndGlyphs">=0.2</text>
<text x="220.3" y="35.5" font-size="10" font-family="Liberation Sans, sans-serif">n</text><text x="226.6" y="30.0" font-size="7.5" font-family="Liberation Sans, sans-serif">c</text><text x="231.3" y="35.5" font-size="10" font-family="Liberation Sans, sans-serif" textLength="24.6" lengthAdjust="spacingAndGlyphs">=0.4</text>
<polyline points="174.0,44.9 195.0,44.9" fill="none" stroke="#000" stroke-width="1.5" stroke-linejoin="round"/>
<circle cx="184.6" cy="44.9" r="3.0" fill="none" stroke="#000" stroke-width="1.0"/>
<polyline points="226.0,44.9 248.0,44.9" fill="none" stroke="#ff0000" stroke-width="1.5" stroke-linejoin="round"/>
<circle cx="236.9" cy="44.9" r="3.0" fill="#ff0000" stroke="#ff0000" stroke-width="1.0"/>
<text x="263.0" y="48.1" font-size="10" font-family="Liberation Sans, sans-serif">J</text><text x="267.6" y="51.2" font-size="8" font-family="Liberation Sans, sans-serif" textLength="5.0" lengthAdjust="spacingAndGlyphs">K</text><text x="273.0" y="48.1" font-size="10" font-family="Liberation Sans, sans-serif" textLength="8.6" lengthAdjust="spacingAndGlyphs">/t</text><text x="285.8" y="48.1" font-size="10" font-family="Liberation Sans, sans-serif">=</text><text x="296.0" y="48.1" font-size="10" font-family="Liberation Sans, sans-serif" textLength="6.2" lengthAdjust="spacingAndGlyphs">0</text>
<polyline points="174.0,60.0 195.0,60.0" fill="none" stroke="#a8761c" stroke-width="1.5" stroke-linejoin="round"/>
<polygon points="184.6,56.0 181.5,62.3 187.7,62.3" fill="none" stroke="#a8761c" stroke-width="1.0" stroke-linejoin="miter"/>
<polyline points="226.0,60.0 248.0,60.0" fill="none" stroke="#0a9a50" stroke-width="1.5" stroke-linejoin="round"/>
<polygon points="236.9,55.5 233.3,62.8 240.5,62.8" fill="#0a9a50"/>
<text x="263.0" y="63.2" font-size="10" font-family="Liberation Sans, sans-serif">J</text><text x="267.6" y="66.3" font-size="8" font-family="Liberation Sans, sans-serif" textLength="5.0" lengthAdjust="spacingAndGlyphs">K</text><text x="273.0" y="63.2" font-size="10" font-family="Liberation Sans, sans-serif" textLength="8.6" lengthAdjust="spacingAndGlyphs">/t</text><text x="285.8" y="63.2" font-size="10" font-family="Liberation Sans, sans-serif">=</text><text x="296.0" y="63.2" font-size="10" font-family="Liberation Sans, sans-serif" textLength="6.2" lengthAdjust="spacingAndGlyphs">2</text>
<polyline points="174.0,75.2 195.0,75.2" fill="none" stroke="#ff00dc" stroke-width="1.5" stroke-linejoin="round"/>
<rect x="181.5" y="72.1" width="6.2" height="6.2" fill="none" stroke="#ff00dc" stroke-width="1.0"/>
<polyline points="226.0,75.2 248.0,75.2" fill="none" stroke="#0040ff" stroke-width="1.5" stroke-linejoin="round"/>
<rect x="233.8" y="72.1" width="6.2" height="6.2" fill="#0040ff" stroke="#0040ff" stroke-width="1.0"/>
<text x="263.0" y="78.4" font-size="10" font-family="Liberation Sans, sans-serif">J</text><text x="267.6" y="81.5" font-size="8" font-family="Liberation Sans, sans-serif" textLength="5.0" lengthAdjust="spacingAndGlyphs">K</text><text x="273.0" y="78.4" font-size="10" font-family="Liberation Sans, sans-serif" textLength="8.6" lengthAdjust="spacingAndGlyphs">/t</text><text x="285.8" y="78.4" font-size="10" font-family="Liberation Sans, sans-serif">=</text><text x="296.0" y="78.4" font-size="10" font-family="Liberation Sans, sans-serif" textLength="6.2" lengthAdjust="spacingAndGlyphs">6</text>
<text x="182.7" y="385.0" font-size="10" font-family="Liberation Sans, sans-serif">f</text><text x="185.8" y="388.0" font-size="7.5" font-family="Liberation Sans, sans-serif">E</text>
<text x="204.0" y="385.0" font-size="10" font-family="Liberation Sans, sans-serif">f</text><text x="207.1" y="388.0" font-size="7.5" font-family="Liberation Sans, sans-serif">A</text>
<text x="222.9" y="385.0" font-size="10" font-family="Liberation Sans, sans-serif" textLength="14.6" lengthAdjust="spacingAndGlyphs">|dn</text><text x="237.4" y="388.0" font-size="7.5" font-family="Liberation Sans, sans-serif">k</text><text x="240.8" y="385.0" font-size="10" font-family="Liberation Sans, sans-serif" textLength="19.8" lengthAdjust="spacingAndGlyphs">/dk|</text><text x="260.8" y="388.0" font-size="7.5" font-family="Liberation Sans, sans-serif" textLength="13.4" lengthAdjust="spacingAndGlyphs">max</text>
<text x="281.6" y="385.0" font-size="10" font-family="Liberation Sans, sans-serif">n</text><text x="287.5" y="379.4" font-size="7.5" font-family="Liberation Sans, sans-serif">c</text>
<text x="275.3" y="400.2" font-size="10" font-family="Liberation Sans, sans-serif" textLength="14.8" lengthAdjust="spacingAndGlyphs">0.2</text>
<text x="275.3" y="413.8" font-size="10" font-family="Liberation Sans, sans-serif" textLength="14.8" lengthAdjust="spacingAndGlyphs">0.4</text>
<polyline points="175.4,396.5 196.5,396.5" fill="none" stroke="#ff0000" stroke-width="1.5" stroke-linejoin="round"/>
<circle cx="211.3" cy="396.5" r="3.1" fill="#ff0000" stroke="#ff0000" stroke-width="1.0"/>
<polyline points="235.7,396.5 243.8,396.5" fill="none" stroke="#ff0000" stroke-width="1.4" stroke-linejoin="round"/>
<polyline points="249.0,396.5 251.3,396.5" fill="none" stroke="#ff0000" stroke-width="1.4" stroke-linejoin="round"/>
<polyline points="175.4,409.2 196.5,409.2" fill="none" stroke="#009a00" stroke-width="1.5" stroke-linejoin="round"/>
<polygon points="211.3,404.7 207.8,411.9 214.9,411.9" fill="#009a00"/>
<polyline points="235.7,409.2 243.8,409.2" fill="none" stroke="#009a00" stroke-width="1.4" stroke-linejoin="round"/>
<polyline points="252.0,409.2 257.3,409.2" fill="none" stroke="#009a00" stroke-width="1.4" stroke-linejoin="round"/>
</g>
</svg>
</body></html>
